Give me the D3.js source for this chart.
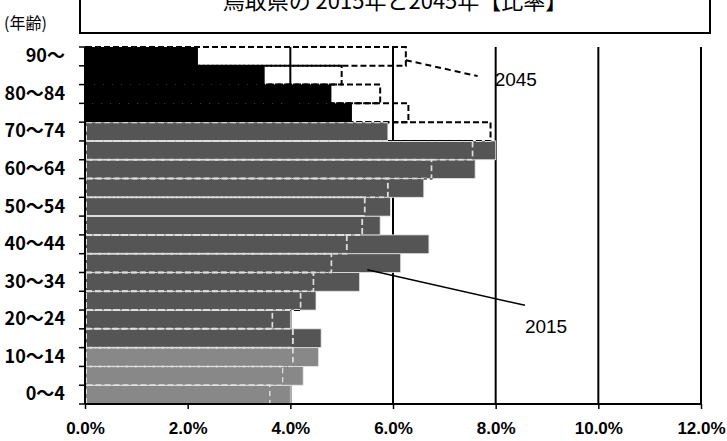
<!DOCTYPE html>
<html>
<head>
<meta charset="utf-8">
<script src="https://cdn.jsdelivr.net/npm/d3@7"></script>
<style>
  html, body { margin: 0; padding: 0; background: #fff; }
  svg { display: block; }
</style>
</head>
<body>
<svg id="chart" width="727" height="441" font-family="'Liberation Sans', Arial, 'Noto Sans CJK JP', sans-serif"></svg>
<script>
// Age groups, youngest first
const ageGroups = ["0～4","5～9","10～14","15～19","20～24","25～29","30～34","35～39","40～44",
                   "45～49","50～54","55～59","60～64","65～69","70～74","75～79","80～84","85～89","90～"];
// Share of total population (%) by age group
const share2015 = [4.0, 4.25, 4.55, 4.6, 4.0, 4.5, 5.35, 6.15, 6.7, 5.75, 5.95, 6.6, 7.6, 8.0, 5.9, 5.2, 4.8, 3.5, 2.2];
const share2045 = [3.6, 3.85, 4.05, 4.05, 3.65, 4.2, 4.45, 4.8, 5.1, 5.4, 5.45, 5.9, 6.75, 7.55, 7.9, 6.3, 5.75, 5.0, 6.25];
// Fill tone per 2015 bar: 0-14 light, 15-74 medium, 75+ black
const barTone = ["light","light","light","mid","mid","mid","mid","mid","mid","mid","mid","mid","mid","mid","mid","dark","dark","dark","dark"];
const xTicks = [0, 2, 4, 6, 8, 10, 12];
const labelledAges = ["0～4","10～14","20～24","30～34","40～44","50～54","60～64","70～74","80～84","90～"];
const titleText = "鳥取県の 2015年と2045年【比率】";
const yAxisTitle = "(年齢)";

const toneColor = { light: "#888888", mid: "#555555", dark: "#000" };
const cjkFont = "'Noto Sans CJK JP', sans-serif";

const svg = d3.select("#chart");
const plotLeft = 85, plotRight = 701, plotTop = 47, plotBottom = 404;

const x = d3.scaleLinear().domain([0, 12]).range([plotLeft, plotRight]);
const y = d3.scaleBand().domain(ageGroups.slice().reverse()).range([plotTop, plotBottom]).padding(0);

const rows = ageGroups.map((g, i) => ({ g, v15: share2015[i], v45: share2045[i], tone: barTone[i] }));

// Title box (top partly outside the page)
svg.append("rect").attr("x", 80).attr("y", -6).attr("width", 630).attr("height", 39)
  .attr("fill", "#fff").attr("stroke", "#000").attr("stroke-width", 2);
svg.append("text").attr("x", 395).attr("y", 9).attr("text-anchor", "middle")
  .style("font-family", cjkFont).attr("font-size", 22).text(titleText);

svg.append("text").attr("x", 4).attr("y", 29).style("font-family", cjkFont)
  .attr("font-size", 16).text(yAxisTitle);

// Vertical gridlines behind the bars
svg.append("g").selectAll("line").data(xTicks.filter(d => d > 0)).join("line")
  .attr("x1", d => x(d)).attr("x2", d => x(d))
  .attr("y1", plotTop).attr("y2", plotBottom)
  .attr("stroke", "#000").attr("stroke-width", 2);

// 2015 bars
svg.append("g").selectAll("rect").data(rows).join("rect")
  .attr("x", x(0)).attr("y", d => y(d.g))
  .attr("width", d => x(d.v15) - x(0)).attr("height", y.bandwidth())
  .attr("fill", d => toneColor[d.tone])
  .attr("stroke", d => d.tone === "dark" ? "none" : "#e6e6e6")
  .attr("stroke-width", 0.8);

// Clip region: grey 2015 bars, where the 2045 outline shows light
const defs = svg.append("defs");
defs.append("clipPath").attr("id", "greyBars").selectAll("rect")
  .data(rows.filter(d => d.tone !== "dark")).join("rect")
  .attr("x", x(0)).attr("y", d => y(d.g))
  .attr("width", d => x(d.v15) - x(0)).attr("height", y.bandwidth());

// 2045 outlines
const outline = g => g.selectAll("rect").data(rows).join("rect")
  .attr("x", x(0) + 1).attr("y", d => y(d.g))
  .attr("width", d => x(d.v45) - x(0) - 1).attr("height", y.bandwidth())
  .attr("fill", "none").attr("stroke-width", 2).attr("stroke-dasharray", "6,3");
svg.append("g").call(outline).selectAll("rect").attr("stroke", "#000");
svg.append("g").attr("clip-path", "url(#greyBars)").call(outline).selectAll("rect").attr("stroke", "#dedede");

// Axes
svg.append("line").attr("x1", plotLeft).attr("x2", plotRight).attr("y1", plotBottom).attr("y2", plotBottom)
  .attr("stroke", "#000").attr("stroke-width", 2);
svg.append("line").attr("x1", plotLeft).attr("x2", plotLeft).attr("y1", plotTop).attr("y2", plotBottom)
  .attr("stroke", "#000").attr("stroke-width", 2);

const xAxis = d3.axisBottom(x).tickValues(xTicks).tickFormat(d => d.toFixed(1) + "%").tickSize(5).tickPadding(13);
const gx = svg.append("g").attr("transform", `translate(0,${plotBottom})`).call(xAxis);
gx.select(".domain").remove();
gx.selectAll(".tick line").attr("stroke", "#000").attr("stroke-width", 1.5);
gx.selectAll(".tick text").attr("font-size", 17).attr("font-weight", "bold").attr("fill", "#000")
  .style("font-family", "'Liberation Sans', Arial, sans-serif");

// Band boundary ticks on the left axis
const bounds = ageGroups.map(g => y(g)).concat([plotBottom]);
svg.append("g").selectAll("line").data(bounds).join("line")
  .attr("x1", plotLeft - 6).attr("x2", plotLeft).attr("y1", d => d).attr("y2", d => d)
  .attr("stroke", "#000").attr("stroke-width", 1.5);

svg.append("g").selectAll("text").data(labelledAges).join("text")
  .attr("x", 65).attr("y", d => y(d) + y.bandwidth() / 2 + 1)
  .attr("text-anchor", "end").attr("dominant-baseline", "middle")
  .style("font-family", cjkFont)
  .attr("font-size", 18).attr("font-weight", "bold").text(d => d);

// Series callouts
const yAt = (g, f) => y(g) + y.bandwidth() * f;
svg.append("line")
  .attr("x1", x(6.25)).attr("y1", yAt("90～", 0.7))
  .attr("x2", x(7.65)).attr("y2", yAt("85～89", 0.55))
  .attr("stroke", "#000").attr("stroke-width", 2).attr("stroke-dasharray", "6,4");
svg.append("text").attr("x", x(8.0) - 1).attr("y", yAt("85～89", 1.1))
  .attr("font-size", 19).text("2045");

svg.append("line")
  .attr("x1", x(5.5)).attr("y1", yAt("35～39", 0.85))
  .attr("x2", x(8.57)).attr("y2", yAt("25～29", 0.75))
  .attr("stroke", "#000").attr("stroke-width", 1.5);
svg.append("text").attr("x", x(8.57)).attr("y", yAt("20～24", 1.2))
  .attr("font-size", 19).text("2015");
</script>
</body>
</html>
